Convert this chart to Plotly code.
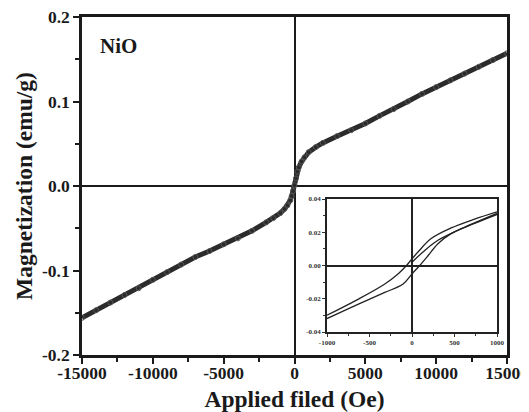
import plotly.graph_objects as go

# ---- main M-H curve ----
field_main = [-15000, -14000, -13000, -12000, -11000, -10000, -9000, -8000, -7000,
              -6000, -5000, -4000, -3000, -2000, -1500, -1000, -700, -500, -300,
              -200, -100, 0, 100, 200, 300, 500, 700, 1000, 1500, 2000, 3000, 4000,
              5000, 6000, 7000, 8000, 9000, 10000, 11000, 12000, 13000, 14000, 15000]
mag_main = [-0.156, -0.147, -0.138, -0.129, -0.121, -0.111, -0.102, -0.093, -0.084,
            -0.077, -0.069, -0.062, -0.053, -0.043, -0.038, -0.032, -0.027, -0.023, -0.017,
            -0.012, -0.006, 0.001, 0.009, 0.017, 0.022, 0.029, 0.034, 0.040, 0.046, 0.051,
            0.059, 0.066, 0.074, 0.083, 0.091, 0.100, 0.109, 0.117, 0.125, 0.133,
            0.141, 0.149, 0.157]

# ---- inset hysteresis loop ----
field_up = [-1000, -630, -320, -105, 0, 90, 190, 305, 460, 735, 1000]
mag_up = [-0.0319, -0.0232, -0.0162, -0.0111, -0.0050, 0.0000, 0.0060, 0.0131, 0.0192, 0.0253, 0.0307]
field_down = [1000, 735, 460, 225, 70, 0, -65, -165, -320, -630, -1000]
mag_down = [0.0323, 0.0279, 0.0226, 0.0162, 0.0081, 0.0040, 0.0000, -0.0051, -0.0111, -0.0202, -0.0299]
field_virgin = [0, 150, 305, 540, 1000]
mag_virgin = [0.0020, 0.0091, 0.0152, 0.0212, 0.0313]

x_ticks = [-15000, -10000, -5000, 0, 5000, 10000, 15000]
x_labels = ["-15000", "-10000", "-5000", "0", "5000", "10000", "15000"]
y_ticks = [-0.2, -0.1, 0.0, 0.1, 0.2]
y_labels = ["-0.2", "-0.1", "0.0", "0.1", "0.2"]
inset_x_ticks = [-1000, -500, 0, 500, 1000]
inset_x_labels = ["-1000", "-500", "0", "500", "1000"]
inset_y_ticks = [-0.04, -0.02, 0.0, 0.02, 0.04]
inset_y_labels = ["-0.04", "-0.02", "0.00", "0.02", "0.04"]

SERIF = "Liberation Serif, Times New Roman, serif"

fig = go.Figure()
fig.add_trace(go.Scatter(
    x=field_main, y=mag_main, mode="lines+markers",
    line=dict(color="#2b2b2b", width=5),
    marker=dict(symbol="circle-open", size=5, color="#555555", line=dict(width=1)),
    xaxis="x", yaxis="y", showlegend=False))

for fx, my in [(field_up, mag_up), (field_down, mag_down), (field_virgin, mag_virgin)]:
    fig.add_trace(go.Scatter(
        x=fx, y=my, mode="lines", line=dict(color="#222222", width=1.3, shape="spline"),
        xaxis="x2", yaxis="y2", showlegend=False))

tickfont = dict(family=SERIF, size=17.5, color="#1a1a1a", weight="bold")
titlefont = dict(family=SERIF, size=23.5, color="#1a1a1a", weight="bold")
inset_font = dict(family=SERIF, size=7, color="#333333", weight="bold")

# page body has an 8px margin, so the figure sits 8px right/down in the window
fig.update_layout(
    width=529, height=412,
    margin=dict(l=74, r=30, t=9, b=65),
    paper_bgcolor="white", plot_bgcolor="white",
    xaxis=dict(
        range=[-15000, 15000], domain=[0, 1], tickvals=x_ticks, ticktext=x_labels,
        ticks="outside", automargin=False, ticklabeloverflow="allow", ticklabelstandoff=-6,
        ticklen=6, tickwidth=2, tickcolor="#1a1a1a", tickfont=tickfont,
        minor=dict(ticks="outside", dtick=2500, ticklen=4, tickwidth=1.5, tickcolor="#1a1a1a"),
        showline=True, linewidth=2.5, linecolor="#1a1a1a", mirror=True,
        showgrid=False, zeroline=True, zerolinecolor="#1a1a1a", zerolinewidth=2,
        title=dict(text="Applied filed (Oe)", font=titlefont, standoff=9)),
    yaxis=dict(
        range=[-0.2, 0.2], domain=[0, 1], tickvals=y_ticks, ticktext=y_labels,
        ticks="outside", automargin=False, ticklabeloverflow="allow",
        ticklen=6, tickwidth=2, tickcolor="#1a1a1a", tickfont=tickfont,
        minor=dict(ticks="outside", dtick=0.05, ticklen=4, tickwidth=1.5, tickcolor="#1a1a1a"),
        showline=True, linewidth=2.5, linecolor="#1a1a1a", mirror=True,
        showgrid=False, zeroline=True, zerolinecolor="#1a1a1a", zerolinewidth=2,
        title=dict(text="Magnetization (emu/g)", font=titlefont, standoff=3)),
    xaxis2=dict(
        range=[-1000, 1000], domain=[0.5765, 0.9765], anchor="y2", tickvals=inset_x_ticks,
        ticktext=inset_x_labels, automargin=False, ticklabeloverflow="allow",
        ticks="outside", ticklen=3, tickwidth=1, tickcolor="#333", tickfont=inset_font,
        minor=dict(ticks="outside", dtick=250, ticklen=2, tickwidth=1, tickcolor="#333"),
        showline=True, linewidth=1.5, linecolor="#222", mirror=True,
        showgrid=False, zeroline=True, zerolinecolor="#222", zerolinewidth=1.5),
    yaxis2=dict(
        range=[-0.04, 0.04], domain=[0.068, 0.4615], anchor="x2", tickvals=inset_y_ticks,
        ticktext=inset_y_labels, automargin=False, ticklabeloverflow="allow",
        ticks="outside", ticklen=3, tickwidth=1, tickcolor="#333",
        tickfont=inset_font,
        minor=dict(ticks="outside", dtick=0.01, ticklen=2, tickwidth=1, tickcolor="#333"),
        showline=True, linewidth=1.5, linecolor="#222", mirror=True,
        showgrid=False, zeroline=True, zerolinecolor="#222", zerolinewidth=1.5),
    annotations=[dict(
        text="NiO", xref="paper", yref="paper", x=0.038, y=0.915, xanchor="left",
        yanchor="middle", showarrow=False,
        font=dict(family=SERIF, size=21, color="#1a1a1a", weight="bold"))],
)

fig.write_html("out.html")
